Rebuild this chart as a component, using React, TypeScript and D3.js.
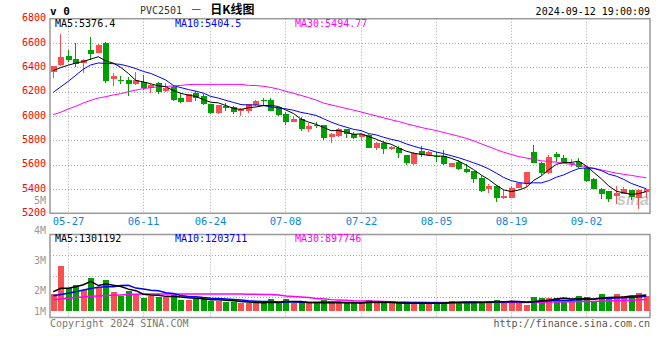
import React from "react";
import * as d3 from "d3";

const dates = ["05-23","05-24","05-27","05-28","05-29","05-30","05-31","06-03","06-04","06-05","06-06","06-07","06-11","06-12","06-13","06-14","06-17","06-18","06-19","06-20","06-21","06-24","06-25","06-26","06-27","06-28","07-01","07-02","07-03","07-04","07-05","07-08","07-09","07-10","07-11","07-12","07-15","07-16","07-17","07-18","07-19","07-22","07-23","07-24","07-25","07-26","07-29","07-30","07-31","08-01","08-02","08-05","08-06","08-07","08-08","08-09","08-12","08-13","08-14","08-15","08-16","08-19","08-20","08-21","08-22","08-23","08-26","08-27","08-28","08-29","08-30","09-02","09-03","09-04","09-05","09-06","09-09","09-10","09-11","09-12"];

const open = [6363,6421,6495,6468,6433,6542,6520,6602,6301,6295,6295,6262,6276,6227,6268,6205,6240,6149,6117,6190,6166,6097,6021,6081,6070,6040,6042,6089,6130,6130,6070,6015,5952,5979,5892,5930,5925,5828,5836,5892,5856,5829,5842,5741,5782,5725,5738,5678,5604,5714,5678,5673,5670,5583,5624,5563,5547,5492,5397,5427,5328,5328,5410,5438,5700,5610,5528,5686,5656,5604,5624,5574,5481,5400,5383,5342,5359,5391,5323,5378];
const high = [6410,6674,6542,6597,6465,6652,6590,6608,6355,6328,6322,6363,6336,6260,6281,6268,6254,6190,6180,6205,6180,6100,6093,6103,6081,6062,6100,6130,6144,6144,6075,6034,5999,5988,5939,5952,5930,5864,5902,5895,5870,5850,5850,5785,5793,5750,5752,5680,5706,5752,5710,5706,5719,5613,5637,5604,5550,5509,5440,5430,5400,5427,5450,5540,5760,5624,5678,5700,5678,5643,5651,5591,5492,5405,5386,5424,5419,5395,5400,5402];
const low = [6310,6415,6441,6405,6350,6460,6515,6268,6248,6262,6166,6255,6213,6186,6180,6200,6125,6110,6112,6125,6090,6020,6018,6040,6015,5999,6021,6085,6081,6040,5999,5930,5950,5878,5870,5902,5801,5779,5830,5820,5815,5793,5735,5719,5686,5722,5656,5596,5600,5665,5675,5624,5600,5580,5558,5533,5451,5378,5364,5296,5318,5323,5405,5419,5610,5514,5525,5624,5612,5577,5569,5454,5397,5318,5296,5277,5355,5309,5236,5323];
const close = [6410,6487,6460,6424,6460,6509,6583,6289,6331,6284,6262,6295,6227,6254,6199,6232,6130,6117,6177,6149,6097,6026,6090,6067,6032,6056,6095,6122,6122,6042,6007,5952,5979,5892,5919,5916,5823,5850,5892,5856,5823,5848,5738,5782,5725,5747,5692,5610,5697,5678,5706,5665,5604,5610,5561,5542,5479,5383,5427,5328,5345,5410,5446,5536,5615,5528,5665,5665,5618,5615,5583,5465,5400,5359,5318,5364,5400,5337,5391,5400];

// volume in lots
const volume = [1520000,4090000,2090000,2360000,1910000,3030000,2180000,2820000,1730000,1390000,1820000,1480000,1210000,1360000,1300000,1300000,1410000,1000000,1000000,1090000,1090000,940000,940000,860000,860000,730000,730000,700000,700000,1090000,700000,1090000,700000,700000,700000,700000,1000000,700000,700000,700000,700000,850000,1000000,700000,700000,700000,700000,700000,700000,700000,700000,700000,850000,940000,790000,790000,700000,790000,910000,1000000,790000,910000,700000,550000,1300000,1210000,1150000,1210000,1000000,850000,1360000,1300000,850000,1520000,1060000,1520000,1390000,1360000,1610000,1360000];

// moving-average values before a full window exists
const ma5Head = [6375,6398,6418,6435];
const ma10Head = [6195,6240,6285,6335,6385,6420,6436,6432,6430];
const ma30Head = [6012,6031,6058,6080,6107,6129,6148,6159,6173,6184,6200,6213,6225,6233,6240,6244,6246,6252,6258,6260,6260,6260,6260,6260,6260,6260,6252,6250,6245];
const vma5Head = [1750000,2060000,2060000,2210000];
const vma10Head = [1380000,1500000,1620000,1750000,1900000,2050000,2150000,2200000,2200000];
const vma30Head = [1020000,1080000,1150000,1220000,1280000,1330000,1370000,1400000,1430000,1460000,1500000,1530000,1540000,1540000,1540000,1540000,1540000,1540000,1540000,1540000,1540000,1540000,1540000,1540000,1540000,1540000,1530000,1520000,1510000];

const priceTicks = [5200,5400,5600,5800,6000,6200,6400,6600,6800];
const tickDates = ["05-27","06-11","06-24","07-08","07-22","08-05","08-19","09-02"];
const volTickLabels = [5,4,3,2,1];

const priceLegend = ["MA5:5376.4","MA10:5404.5","MA30:5494.77"];
const volLegend = ["MA5:1301192","MA10:1203711","MA30:897746"];

const RED = "#f85050";
const GREEN = "#00a000";
const MONO = "'DejaVu Sans Mono', 'Liberation Mono', monospace";
const CJK = "'Noto Sans CJK SC', sans-serif";

function movingAverage(values: number[], n: number, head: number[]) {
  return values.map((_, i) => (i < n - 1 ? head[i] : (d3.mean(values.slice(i - n + 1, i + 1)) as number)));
}

export default function App() {
  const L = 50, R = 650;
  const pTop = 18.7, pBot = 213.3;
  const vTop = 234.5, vBot = 317.5, vBase = 311;

  const x = d3.scalePoint<number>().domain(d3.range(dates.length)).range([52.8, 645.8]);
  const y = d3.scaleLinear().domain([5200, 6800]).range([pBot, pTop]);
  const vy = d3.scaleLinear().domain([0, 5000000]).range([vBase, vBase - 55]);
  const vLabelY = d3.scaleLinear().domain([0, 5]).range([350, 200]);

  const ma5 = movingAverage(close, 5, ma5Head);
  const ma10 = movingAverage(close, 10, ma10Head);
  const ma30 = movingAverage(close, 30, ma30Head);
  const vma5 = movingAverage(volume, 5, vma5Head);
  const vma10 = movingAverage(volume, 10, vma10Head);
  const vma30 = movingAverage(volume, 30, vma30Head);

  const pLine = d3.line<number>().x((_, i) => (x(i) as number) + 0.5).y((v) => y(v));
  const vLine = d3.line<number>().x((_, i) => (x(i) as number) + 0.5).y((v) => vy(v));

  const tickX = (d: string) => Math.round(x(dates.indexOf(d)) as number) + 0.5;
  const vGrid = d3.range(1, 4).map((k) => vTop + (k * (vBot - vTop)) / 4);
  const legendX = [55, 175, 295];
  const legendColors = ["#000", "#0000ff", "#ff00ff"];

  return (
    <svg width={660} height={360} style={{ display: "block", position: "absolute", left: 0, top: 0, background: "#fff" }}>
      {/* header */}
      <text x={50} y={15} fontFamily={MONO} fontSize={11} fontWeight="bold" fill="#000">v 0</text>
      <text x={140} y={14} fill="#333">
        <tspan fontFamily={MONO} fontSize={10}>PVC2501</tspan>
        <tspan dx={8} fontFamily={CJK} fontSize={12}>－</tspan>
        <tspan dx={8} fontFamily={CJK} fontSize={12} fontWeight="bold" fill="#000">日K线图</tspan>
      </text>
      <text x={650} y={15} textAnchor="end" fontFamily={MONO} fontSize={10} fill="#000">2024-09-12 19:00:09</text>

      {/* price grid */}
      {priceTicks.slice(1, -1).map((p) => (
        <line key={p} x1={L} x2={R} y1={Math.round(y(p)) + 0.5} y2={Math.round(y(p)) + 0.5} stroke="#aaa" strokeDasharray="1,2" />
      ))}
      {tickDates.map((d) => (
        <line key={d} x1={tickX(d)} x2={tickX(d)} y1={pTop} y2={pBot} stroke="#aaa" strokeDasharray="1,2" />
      ))}
      {tickDates.map((d) => (
        <line key={"v" + d} x1={tickX(d)} x2={tickX(d)} y1={vTop} y2={vBot} stroke="#aaa" strokeDasharray="1,2" />
      ))}
      {vGrid.map((g) => (
        <line key={g} x1={L} x2={R} y1={Math.round(g) + 0.5} y2={Math.round(g) + 0.5} stroke="#aaa" strokeDasharray="1,2" />
      ))}

      {/* watermark */}
      <text x={617} y={205} fontFamily="'Liberation Sans', sans-serif" fontSize={16} fontStyle="italic" fontWeight="bold" fill="#c8c8c8">sina</text>

      {/* candles */}
      {dates.map((d, i) => {
        const cx = Math.round(x(i) as number);
        const up = close[i] >= open[i];
        const col = up ? RED : GREEN;
        const t = Math.round(y(Math.max(open[i], close[i])));
        const b = Math.round(y(Math.min(open[i], close[i])));
        return (
          <g key={d} shapeRendering="crispEdges">
            <line x1={cx + 0.5} x2={cx + 0.5} y1={y(high[i])} y2={y(low[i])} stroke={col} />
            <rect x={cx - 2.5} y={t} width={6} height={Math.max(1, b - t)} fill={col} />
          </g>
        );
      })}

      {/* price MAs */}
      <path d={pLine(ma30) as string} fill="none" stroke="#ff00ff" strokeWidth={1} />
      <path d={pLine(ma10) as string} fill="none" stroke="#0000ff" strokeWidth={1} />
      <path d={pLine(ma5) as string} fill="none" stroke="#000" strokeWidth={1} />

      {/* volume bars */}
      {dates.map((d, i) => {
        const cx = Math.round(x(i) as number);
        const up = close[i] >= open[i];
        const t = Math.round(vy(volume[i]));
        return <rect key={"vb" + d} x={cx - 2.5} y={t} width={6} height={vBase - t} fill={up ? RED : GREEN} shapeRendering="crispEdges" />;
      })}
      <path d={vLine(vma30) as string} fill="none" stroke="#ff00ff" strokeWidth={1.5} />
      <path d={vLine(vma10) as string} fill="none" stroke="#0000ff" strokeWidth={1.5} />
      <path d={vLine(vma5) as string} fill="none" stroke="#000" strokeWidth={1.5} />

      {/* frames */}
      <rect x={L} y={pTop} width={R - L} height={pBot - pTop} fill="none" stroke="#999" strokeWidth={1.5} />
      <rect x={L} y={vTop} width={R - L} height={vBot - vTop} fill="none" stroke="#999" strokeWidth={1.5} />

      {/* legends */}
      {priceLegend.map((t, k) => (
        <text key={t} x={legendX[k]} y={27.3} fontFamily={MONO} fontSize={10} fill={legendColors[k]}>{t}</text>
      ))}
      {volLegend.map((t, k) => (
        <text key={t} x={legendX[k]} y={241.8} fontFamily={MONO} fontSize={10} fill={legendColors[k]}>{t}</text>
      ))}

      {/* price axis labels */}
      {priceTicks.map((p) => (
        <text key={"pl" + p} x={46} y={y(p) + 2.6} textAnchor="end" fontFamily={MONO} fontSize={10} fill="#ff0000">{p}</text>
      ))}
      {/* volume axis labels */}
      {volTickLabels.map((v) => (
        <text key={"vl" + v} x={46} y={Math.min(vLabelY(v), vBase) + 3.6} textAnchor="end" fontFamily={MONO} fontSize={10} fill="#999">{v + "M"}</text>
      ))}
      {/* date labels */}
      {tickDates.map((d) => (
        <text key={"dl" + d} x={tickX(d)} y={224.6} textAnchor="middle" fontFamily={MONO} fontSize={10.5} fill="#0a86dc">{d}</text>
      ))}

      {/* footer */}
      <text x={50} y={326.5} fontFamily={MONO} fontSize={10} fill="#777">Copyright 2024 SINA.COM</text>
      <text x={650} y={326.5} textAnchor="end" fontFamily={MONO} fontSize={10} fill="#555">http://finance.sina.com.cn</text>
    </svg>
  );
}
